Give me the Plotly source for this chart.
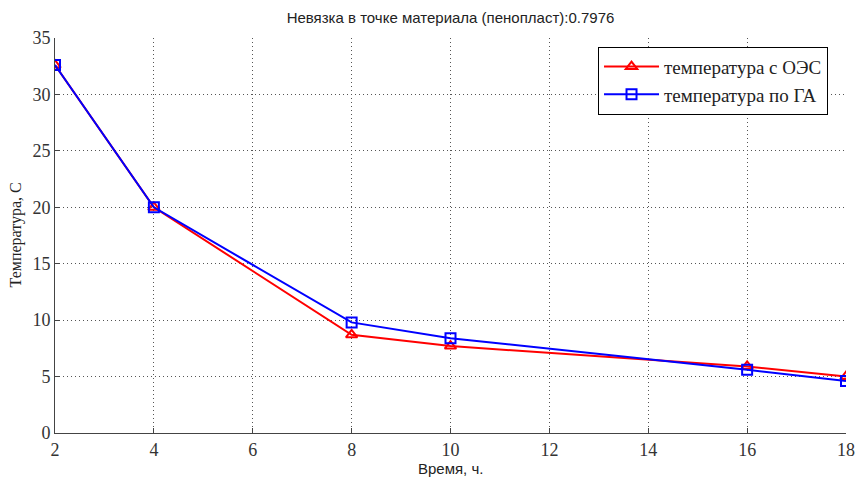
import plotly.graph_objects as go

time_h = [2, 4, 8, 10, 16, 18]
temp_oes = [32.6, 20.0, 8.7, 7.7, 5.9, 5.0]
temp_ga = [32.6, 20.0, 9.8, 8.4, 5.6, 4.6]
x_ticks = [2, 4, 6, 8, 10, 12, 14, 16, 18]
y_ticks = [0, 5, 10, 15, 20, 25, 30, 35]

fig = go.Figure()
fig.add_trace(go.Scatter(
    x=time_h, y=temp_oes, mode="lines+markers", name="температура с ОЭС",
    line=dict(color="#ff0000", width=2),
    marker=dict(symbol="triangle-up-open", size=10, color="#ff0000", line=dict(width=2))))
fig.add_trace(go.Scatter(
    x=time_h, y=temp_ga, mode="lines+markers", name="температура по ГА",
    line=dict(color="#0000ff", width=2),
    marker=dict(symbol="square-open", size=10, color="#0000ff", line=dict(width=2))))

serif = "Liberation Serif, Times New Roman, serif"
sans = "Liberation Sans, Arial, sans-serif"

fig.update_layout(
    width=859, height=477,
    margin=dict(l=55, r=13, t=38, b=44),
    paper_bgcolor="white", plot_bgcolor="white",
    title=dict(text="Невязка в точке материала (пенопласт):0.7976",
               font=dict(family=sans, size=15, color="#222"),
               x=0.5, xanchor="center", xref="paper", y=1 - 18 / 477, yanchor="middle"),
    showlegend=True,
    legend=dict(x=0.6865, y=0.978, xanchor="left", yanchor="top",
                bordercolor="black", borderwidth=1, bgcolor="white",
                font=dict(family=serif, size=19, color="#222"),
                itemwidth=55, tracegroupgap=0),
    font=dict(family=serif, color="#333"),
    annotations=[
        dict(text="Время, ч.", xref="paper", yref="paper", x=0.5, y=-35 / 395,
             xanchor="center", yanchor="middle", showarrow=False,
             font=dict(family=sans, size=15, color="#222")),
        dict(text="Температура, С", xref="paper", yref="paper", x=-40 / 791, y=0.5,
             xanchor="center", yanchor="middle", showarrow=False, textangle=-90,
             font=dict(family=serif, size=16, color="#222")),
    ],
)
fig.update_xaxes(
    range=[2, 18], tickvals=x_ticks, ticks="inside", ticklen=5, tickcolor="#444",
    showline=True, linecolor="#444", linewidth=1, mirror=False, automargin=False,
    showgrid=True, gridcolor="#555", griddash="1px,3px", gridwidth=1, zeroline=False,
    tickfont=dict(family=serif, size=18, color="#333"))
fig.update_yaxes(
    range=[0, 35], tickvals=y_ticks, ticks="inside", ticklen=5, tickcolor="#444",
    showline=True, linecolor="#444", linewidth=1, mirror=False, automargin=False,
    showgrid=True, gridcolor="#555", griddash="1px,3px", gridwidth=1, zeroline=False,
    tickfont=dict(family=serif, size=18, color="#333"))

fig.write_html("out.html", config={"displayModeBar": False},
               post_script="document.body.style.margin='0px';document.body.style.overflow='hidden';")
